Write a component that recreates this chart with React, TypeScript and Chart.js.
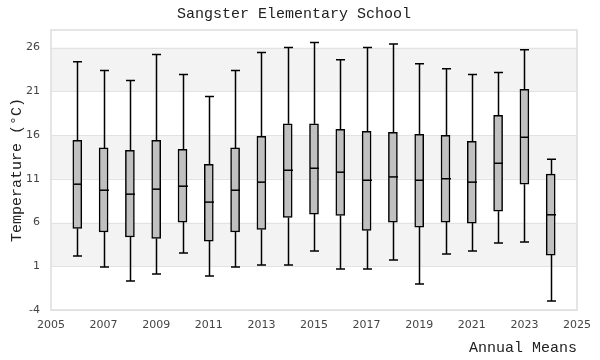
import React, { useEffect, useRef } from "react";
import { Chart, registerables } from "chart.js";

Chart.register(...registerables);

const years = [2006, 2007, 2008, 2009, 2010, 2011, 2012, 2013, 2014, 2015, 2016, 2017, 2018, 2019, 2020, 2021, 2022, 2023, 2024];
const mins = [2.17, 0.91, -0.68, 0.12, 2.51, -0.11, 0.91, 1.14, 1.14, 2.74, 0.69, 0.69, 1.71, -1.02, 2.4, 2.74, 3.65, 3.77, -2.96];
const q1s = [5.32, 4.91, 4.34, 4.18, 6.05, 3.88, 4.91, 5.2, 6.57, 6.96, 6.8, 5.09, 6.05, 5.48, 6.05, 5.93, 7.3, 10.38, 2.28];
const medians = [10.38, 9.69, 9.24, 9.81, 10.15, 8.33, 9.69, 10.61, 11.97, 12.2, 11.75, 10.83, 11.21, 10.83, 11.0, 10.61, 12.77, 15.74, 6.88];
const q3s = [15.4, 14.52, 14.26, 15.4, 14.37, 12.66, 14.52, 15.85, 17.29, 17.29, 16.65, 16.42, 16.31, 16.08, 15.97, 15.28, 18.25, 21.21, 11.52];
const maxs = [24.36, 23.38, 22.24, 25.2, 22.92, 20.41, 23.38, 25.43, 26.0, 26.57, 24.59, 26.0, 26.41, 24.13, 23.56, 22.92, 23.15, 25.73, 13.23];
const yTicks = [-4, 1, 6, 11, 16, 21, 26];
const bands = [[1, 6], [11, 16], [21, 26]];

const TITLE = "Sangster Elementary School";
const X_TITLE = "Annual Means";
const Y_TITLE = "Temperature (°C)";

const mono = "'Liberation Mono', 'DejaVu Sans Mono', monospace";
const sans = "'DejaVu Sans', Verdana, sans-serif";

const boxPlugin = {
  id: "boxPlugin",
  beforeDatasetsDraw(chart: any) {
    const { ctx, chartArea, scales } = chart;
    const y = scales.y;
    ctx.save();
    ctx.fillStyle = "#f3f3f3";
    bands.forEach(([a, b]) => {
      const top = y.getPixelForValue(b);
      const bot = y.getPixelForValue(a);
      ctx.fillRect(chartArea.left, top, chartArea.right - chartArea.left, bot - top);
    });
    ctx.strokeStyle = "#e2e2e2";
    ctx.lineWidth = 1;
    yTicks.forEach((v) => {
      const py = Math.round(y.getPixelForValue(v)) + 0.5;
      ctx.beginPath();
      ctx.moveTo(chartArea.left, py);
      ctx.lineTo(chartArea.right, py);
      ctx.stroke();
    });
    ctx.strokeStyle = "#dddddd";
    ctx.lineWidth = 1.5;
    ctx.strokeRect(chartArea.left, chartArea.top, chartArea.right - chartArea.left, chartArea.bottom - chartArea.top);
    const x = scales.x;
    ctx.strokeStyle = "#000";
    ctx.lineWidth = 1.5;
    years.forEach((yr, i) => {
      const px = Math.round(x.getPixelForValue(yr)) + 0.5;
      const cap = 4.5;
      const pMax = y.getPixelForValue(maxs[i]);
      const pMin = y.getPixelForValue(mins[i]);
      const pQ1 = y.getPixelForValue(q1s[i]);
      const pQ3 = y.getPixelForValue(q3s[i]);
      ctx.beginPath();
      ctx.moveTo(px, pMax);
      ctx.lineTo(px, pQ3);
      ctx.moveTo(px, pQ1);
      ctx.lineTo(px, pMin);
      ctx.moveTo(px - cap, pMax);
      ctx.lineTo(px + cap, pMax);
      ctx.moveTo(px - cap, pMin);
      ctx.lineTo(px + cap, pMin);
      ctx.stroke();
    });
    ctx.restore();
  },
  afterDatasetsDraw(chart: any) {
    const { ctx, scales } = chart;
    const x = scales.x;
    const y = scales.y;
    ctx.save();
    ctx.strokeStyle = "#000";
    ctx.lineWidth = 1.5;
    years.forEach((yr, i) => {
      const px = Math.round(x.getPixelForValue(yr)) + 0.5;
      const pm = y.getPixelForValue(medians[i]);
      ctx.beginPath();
      ctx.moveTo(px - 4.5, pm);
      ctx.lineTo(px + 4.5, pm);
      ctx.stroke();
    });
    ctx.restore();
  },
};

export default function App() {
  const ref = useRef<HTMLCanvasElement | null>(null);
  useEffect(() => {
    if (!ref.current) return;
    const chart = new Chart(ref.current, {
      type: "bar",
      data: {
        datasets: [
          {
            label: "Box",
            data: years.map((yr, i) => ({ x: yr, y: [q1s[i], q3s[i]] })) as any,
            backgroundColor: "#c0c0c0",
            borderColor: "#000",
            borderWidth: 1.5,
            borderSkipped: false,
            barThickness: 9,
            grouped: false,
          } as any,
        ],
      },
      plugins: [boxPlugin],
      options: {
        animation: false,
        responsive: true,
        maintainAspectRatio: false,
        layout: { padding: { left: 8, right: 20, top: 0, bottom: 3 } },
        plugins: {
          legend: { display: false },
          tooltip: { enabled: false },
          title: {
            display: true,
            text: TITLE,
            font: { family: mono, size: 15, weight: "normal" },
            color: "#222",
            padding: { top: 5, bottom: 7 },
          },
        },
        scales: {
          x: {
            type: "linear",
            min: 2005,
            max: 2025,
            offset: false,
            afterFit: (scale: any) => {
              scale.height = 47;
            },
            grid: { display: false, drawTicks: false, offset: false },
            border: { display: false },
            ticks: {
              stepSize: 2,
              padding: 9,
              color: "#444",
              font: { family: sans, size: 11 },
              callback: (v: any) => String(v),
            },
            title: {
              display: true,
              text: X_TITLE,
              align: "end",
              color: "#222",
              font: { family: mono, size: 15, weight: "normal" },
              padding: { top: 0, bottom: 0 },
            },
          },
          y: {
            type: "linear",
            min: -4,
            max: 28,
            afterBuildTicks: (scale: any) => {
              scale.ticks = yTicks.map((v) => ({ value: v }));
            },
            afterFit: (scale: any) => {
              scale.width = 43;
            },
            grid: { display: false, drawTicks: false },
            border: { display: false },
            ticks: {
              padding: 11,
              color: "#444",
              font: { family: sans, size: 11 },
            },
            title: {
              display: true,
              text: Y_TITLE,
              color: "#222",
              font: { family: mono, size: 15, weight: "normal" },
              padding: { top: 0, bottom: 0 },
            },
          },
        },
      } as any,
    });
    return () => chart.destroy();
  }, []);
  return (
    <div style={{ position: "fixed", left: 0, top: 0, width: 600, height: 360, background: "#fff" }}>
      <canvas ref={ref} />
    </div>
  );
}
